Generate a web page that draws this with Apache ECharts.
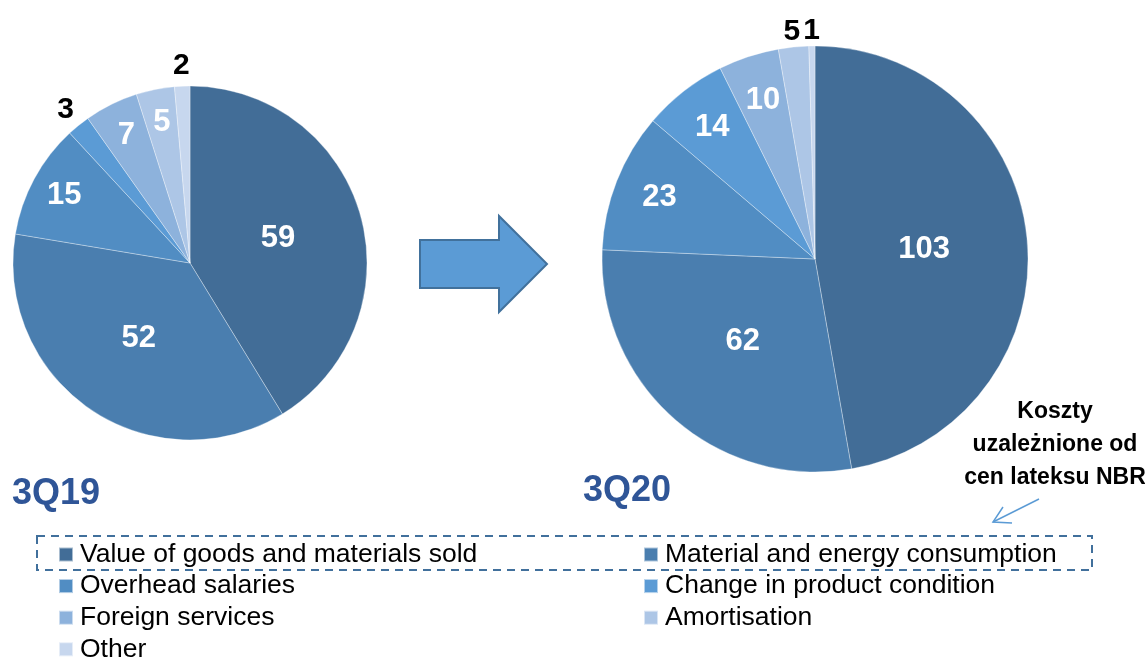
<!DOCTYPE html>
<html><head><meta charset="utf-8">
<script src="https://cdn.jsdelivr.net/npm/echarts@6/dist/echarts.min.js"></script>
<style>html,body{margin:0;padding:0;background:#fff}#c{width:1145px;height:657px}</style>
</head><body><div id="c"></div>
<script>
const categories = ['Value of goods and materials sold', 'Material and energy consumption', 'Overhead salaries', 'Change in product condition', 'Foreign services', 'Amortisation', 'Other'];
const values3Q19 = [59, 52, 15, 3, 7, 5, 2];
const values3Q20 = [103, 62, 23, 14, 10, 5, 1];
const periodLabels = ['3Q19', '3Q20'];
const noteLines = ['Koszty', 'uzależnione od', 'cen lateksu NBR'];

const colors = ['#426D97', '#4A7EAF', '#518DC3', '#5B9BD5', '#8DB2DC', '#ADC6E6', '#C7D7EE'];
const FONT = '"Liberation Sans", Arial, sans-serif';

function pieGroup(vals, center, r, outerK, outsideK) {
  const total = vals.reduce((a, b) => a + b, 0);
  const share = v => v / total;
  const base = {
    type: 'pie', center: center, startAngle: 90, clockwise: true,
    avoidLabelOverlap: false, labelLine: { show: false },
    emphasis: { disabled: true }, legendHoverLink: false, animation: false
  };
  const lbl = (show, color, size) => ({
    show: show, position: 'inside', color: color, fontSize: size,
    fontWeight: 'bold', fontFamily: FONT, formatter: '{c}'
  });
  const main = Object.assign({}, base, {
    radius: [0, r],
    itemStyle: { borderColor: 'rgba(255,255,255,0.55)', borderWidth: 0.6 },
    data: vals.map((v, i) => ({ name: categories[i], value: v, itemStyle: { color: colors[i] },
      label: lbl(share(v) > 0.2, '#fff', 31) }))
  });
  const outerInside = Object.assign({}, base, {
    radius: [0, 2 * outerK * r], silent: true, z: 3,
    itemStyle: { color: 'rgba(0,0,0,0)', borderWidth: 0 },
    data: vals.map((v, i) => ({ name: categories[i], value: v,
      label: lbl(share(v) <= 0.2 && share(v) >= 0.03, '#fff', 31) }))
  });
  const outside = Object.assign({}, base, {
    radius: [0, 2 * outsideK * r], silent: true, z: 3,
    itemStyle: { color: 'rgba(0,0,0,0)', borderWidth: 0 },
    data: vals.map((v, i) => ({ name: categories[i], value: v,
      label: lbl(share(v) < 0.03, '#000', 30) }))
  });
  return [main, outerInside, outside];
}

const chart = echarts.init(document.getElementById('c'), null, { renderer: 'canvas' });

const leftCol = [0, 2, 4, 6].map(i => ({ name: categories[i], itemStyle: { color: colors[i] } }));
const rightCol = [1, 3, 5].map(i => ({ name: categories[i], itemStyle: { color: colors[i] } }));
const legendBase = {
  orient: 'vertical', top: 541, height: 150, padding: 0, itemGap: 4.6, itemWidth: 14, itemHeight: 14,
  icon: 'rect', selectedMode: false,
  textStyle: { fontSize: 26.5, color: '#000', fontFamily: FONT, lineHeight: 27, padding: [0, 0, 0, 2] }
};

chart.setOption({
  backgroundColor: '#fff',
  animation: false,
  legend: [
    Object.assign({}, legendBase, { left: 58, data: leftCol }),
    Object.assign({}, legendBase, { left: 643, data: rightCol })
  ],
  series: [
    ...pieGroup(values3Q19, [190, 263], 177, 0.79, 1.10),
    ...pieGroup(values3Q20, [815, 259], 213, 0.77, 1.06)
  ],
  graphic: [
    { type: 'polygon', z: 10,
      shape: { points: [[420, 240], [499, 240], [499, 216], [547, 264], [499, 312], [499, 288], [420, 288]] },
      style: { fill: '#5B9BD5', stroke: '#41719C', lineWidth: 2 } },
    { type: 'text', z: 10, style: { text: periodLabels[0], x: 12, y: 494, font: 'bold 36px ' + FONT, fill: '#2F5597', align: 'left', verticalAlign: 'middle' } },
    { type: 'text', z: 10, style: { text: periodLabels[1], x: 583, y: 491, font: 'bold 36px ' + FONT, fill: '#2F5597', align: 'left', verticalAlign: 'middle' } },
    { type: 'text', z: 10, style: { text: noteLines.join('\n'), x: 1055, y: 445, font: 'bold 23px ' + FONT, lineHeight: 33, fill: '#000', align: 'center', verticalAlign: 'middle' } },
    { type: 'line', z: 10, shape: { x1: 1039, y1: 499, x2: 993, y2: 522 }, style: { stroke: '#5B9BD5', lineWidth: 1.5 } },
    { type: 'polyline', z: 10, shape: { points: [[1003, 507], [993, 522], [1012, 523]] }, style: { stroke: '#5B9BD5', lineWidth: 1.5, fill: null } },
    { type: 'rect', z: 10, shape: { x: 37, y: 536, width: 1055, height: 34 },
      style: { fill: null, stroke: '#41709C', lineWidth: 2, lineDash: [8, 6] } }
  ]
});
</script></body></html>
